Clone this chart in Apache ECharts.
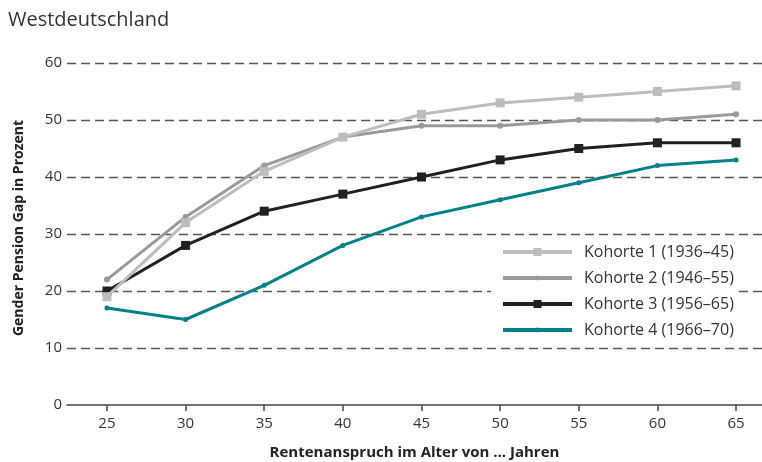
<!DOCTYPE html>
<html><head><meta charset="utf-8">
<script src="https://cdn.jsdelivr.net/npm/echarts@6/dist/echarts.min.js"></script>
<style>html,body{margin:0;padding:0;background:#fff}#c{width:762px;height:462px}</style>
</head><body><div id="c"></div>
<script>
const ages = [25, 30, 35, 40, 45, 50, 55, 60, 65];
const kohorte1 = [19, 32, 41, 47, 51, 53, 54, 55, 56];
const kohorte2 = [22, 33, 42, 47, 49, 49, 50, 50, 51];
const kohorte3 = [20, 28, 34, 37, 40, 43, 45, 46, 46];
const kohorte4 = [17, 15, 21, 28, 33, 36, 39, 42, 43];
const seriesNames = ['Kohorte 1 (1936–45)', 'Kohorte 2 (1946–55)', 'Kohorte 3 (1956–65)', 'Kohorte 4 (1966–70)'];
const yTicks = [0, 10, 20, 30, 40, 50, 60];

const FONT = 'Open Sans';
const colors = ['#bdbdbf', '#9a9a9c', '#231f20', '#00808a'];
const pair = arr => ages.map((a, i) => [a, arr[i]]);
const mk = (name, data, color, symbol, size, z) => ({
  name, type: 'line', data: pair(data), color,
  symbol, symbolSize: size, showSymbol: true,
  lineStyle: { width: 3, color }, itemStyle: { color },
  emphasis: { disabled: true }, z
});

// legend icons: thick line + small marker, in a 69x10 box
const frame = 'M0 0 L69 0 Z M0 10 L69 10 Z ';
const lineBar = 'M0 3 L69 3 L69 7 L0 7 Z ';
const sqIcon = 'path://' + frame + lineBar + 'M30.5 1 L38.5 1 L38.5 9 L30.5 9 Z';
const ciIcon = 'path://' + frame + lineBar + 'M32.2 5 A2.4 2.4 0 1 1 37 5 A2.4 2.4 0 1 1 32.2 5 Z';

const chart = echarts.init(document.getElementById('c'), null, { renderer: 'canvas' });
chart.setOption({
  animation: false,
  textStyle: { fontFamily: FONT },
  title: { text: 'Westdeutschland', left: 3, top: 5,
    textStyle: { fontFamily: FONT, fontSize: 20, fontWeight: 'normal', color: '#333' } },
  grid: { left: 67, right: 0, top: 63, bottom: 57, outerBoundsMode: 'none', containLabel: false },
  legend: {
    orient: 'vertical', left: 491, top: 238, itemWidth: 69, itemHeight: 10, itemGap: 10,
    padding: [6, 2, 6, 12], backgroundColor: '#ffffff', symbolKeepAspect: false, z: 10,
    textStyle: { fontFamily: FONT, fontSize: 16, lineHeight: 16, color: '#333', padding: [0, 0, 0, 7] },
    data: [
      { name: seriesNames[0], icon: sqIcon, itemStyle: { color: colors[0] } },
      { name: seriesNames[1], icon: ciIcon, itemStyle: { color: colors[1] } },
      { name: seriesNames[2], icon: sqIcon, itemStyle: { color: colors[2] } },
      { name: seriesNames[3], icon: ciIcon, itemStyle: { color: colors[3] } }
    ]
  },
  xAxis: {
    type: 'value', min: 22.46, max: 66.65,
    name: 'Rentenanspruch im Alter von ... Jahren', nameLocation: 'middle', nameGap: 40,
    nameTextStyle: { fontFamily: FONT, fontSize: 15, fontWeight: 'bold', color: '#222' },
    axisLine: { show: true, lineStyle: { color: '#444', width: 1.5 } },
    axisTick: { show: true, customValues: ages, length: 6, inside: false, lineStyle: { color: '#444', width: 1.5 } },
    axisLabel: { customValues: ages, fontFamily: FONT, fontSize: 15, color: '#333', margin: 11 },
    splitLine: { show: false }
  },
  yAxis: {
    type: 'value', min: 0, max: 60, interval: 10,
    name: 'Gender Pension Gap in Prozent', nameLocation: 'middle', nameGap: 41,
    nameTextStyle: { fontFamily: FONT, fontSize: 14, fontWeight: 'bold', color: '#222', padding: [0, 0, 0, 12] },
    axisLine: { show: false }, axisTick: { show: false },
    axisLabel: { fontFamily: FONT, fontSize: 15, color: '#333', margin: 5,
      formatter: v => yTicks.includes(v) ? String(v) : '' },
    splitLine: { show: true, showMinLine: false, lineStyle: { color: '#555', width: 1.3, type: [9, 5] } }
  },
  series: [
    mk(seriesNames[0], kohorte1, colors[0], 'rect', 9, 6),
    mk(seriesNames[1], kohorte2, colors[1], 'circle', 6, 5),
    mk(seriesNames[2], kohorte3, colors[2], 'rect', 9, 4),
    mk(seriesNames[3], kohorte4, colors[3], 'circle', 5, 3)
  ]
});
</script></body></html>
